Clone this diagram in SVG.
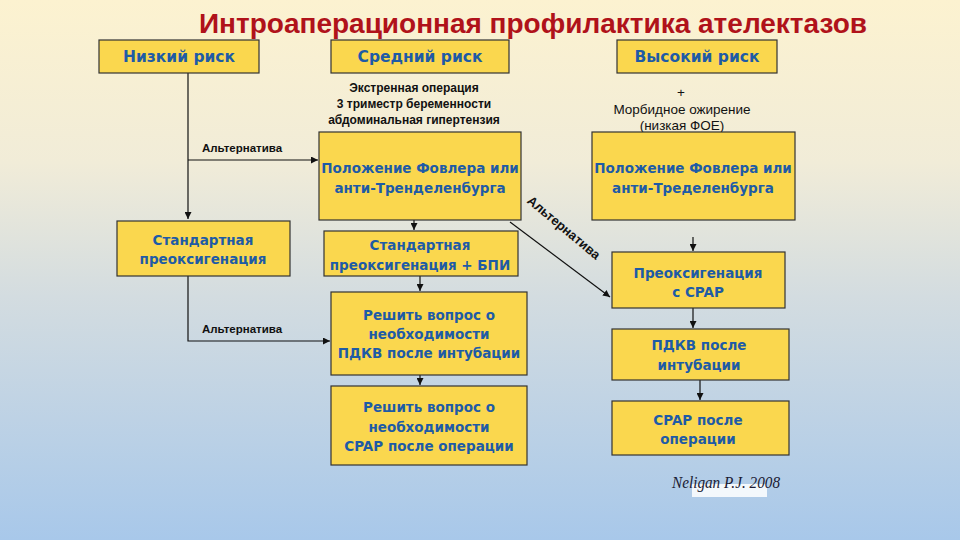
<svg xmlns="http://www.w3.org/2000/svg" width="960" height="540" viewBox="0 0 960 540">
<defs>
<linearGradient id="bg" x1="0" y1="0" x2="0" y2="1">
<stop offset="0" stop-color="#FCF2D0"/>
<stop offset="0.3" stop-color="#F1ECD8"/>
<stop offset="0.55" stop-color="#D3DCE0"/>
<stop offset="1" stop-color="#A8C8EA"/>
</linearGradient>
<marker id="ah" viewBox="0 0 10 10" refX="10" refY="5" markerWidth="7" markerHeight="7" orient="auto" markerUnits="userSpaceOnUse">
<path d="M0,0 L10,5 L0,10 z" fill="#111"/>
</marker>
<style>
.box{fill:#FAD74E;stroke:#333;stroke-width:1.2}
.bt{font-family:"DejaVu Sans",sans-serif;font-weight:bold;font-size:13.5px;fill:#1E5BA6;text-anchor:middle}
.ht{font-family:"DejaVu Sans",sans-serif;font-weight:bold;font-size:15.5px;fill:#1E5BA6;text-anchor:middle}
.lb{font-family:"Liberation Sans",sans-serif;font-weight:bold;font-size:11.5px;fill:#111}
.nt{font-family:"Liberation Sans",sans-serif;font-size:12px;fill:#111;text-anchor:middle}
.nt2{font-family:"Liberation Sans",sans-serif;font-size:13.5px;fill:#111;text-anchor:middle}
.ln{stroke:#111;stroke-width:1.2;fill:none}
</style>
</defs>
<rect width="960" height="540" fill="url(#bg)"/>
<text x="533" y="33" font-family="Liberation Sans, sans-serif" font-weight="bold" font-size="27" fill="#B0121A" text-anchor="middle" textLength="668" lengthAdjust="spacingAndGlyphs">Интроаперационная профилактика ателектазов</text>

<g id="connectors">
<path class="ln" d="M188,73 V219" marker-end="url(#ah)"/>
<path class="ln" d="M188,160 H318" marker-end="url(#ah)"/>
<path class="ln" d="M188,276 V341 H330" marker-end="url(#ah)"/>
<path class="ln" d="M414,220 V230" marker-end="url(#ah)"/>
<path class="ln" d="M420,276 V291" marker-end="url(#ah)"/>
<path class="ln" d="M420,375 V385" marker-end="url(#ah)"/>
<path class="ln" d="M510,222 L610,297" marker-end="url(#ah)"/>
<path class="ln" d="M693,237 V251" marker-end="url(#ah)"/>
<path class="ln" d="M693,308 V328" marker-end="url(#ah)"/>
<path class="ln" d="M700,380 V400" marker-end="url(#ah)"/>
<text class="lb" x="202" y="152">Альтернатива</text>
<text class="lb" x="202" y="333">Альтернатива</text>
<text class="lb" x="0" y="0" style="font-size:13px;text-anchor:middle" transform="translate(561,231) rotate(40)">Альтернатива</text>
</g>

<g id="n-low"><rect class="box" x="99" y="40" width="160" height="33"/><text class="ht" x="179" y="62">Низкий риск</text></g>
<g id="n-mid"><rect class="box" x="331" y="40" width="178" height="33"/><text class="ht" x="420" y="62">Средний риск</text></g>
<g id="n-high"><rect class="box" x="617" y="40" width="160" height="33"/><text class="ht" x="697" y="62">Высокий риск</text></g>

<g id="n-mid-note">
<text class="nt" font-weight="bold" x="414" y="92">Экстренная операция</text>
<text class="nt" font-weight="bold" x="414" y="108">3 триместр беременности</text>
<text class="nt" font-weight="bold" x="414" y="124">абдоминальная гипертензия</text>
</g>
<g id="n-high-note">
<text class="nt2" x="681" y="97">+</text>
<text class="nt2" x="682" y="114">Морбидное ожирение</text>
<text class="nt2" x="682" y="130">(низкая ФОЕ)</text>
</g>

<g id="n-fowler-mid"><rect class="box" x="319" y="132" width="202" height="88"/><text class="bt" x="420" y="173">Положение Фовлера или</text><text class="bt" x="420" y="193">анти-Тренделенбурга</text></g>
<g id="n-fowler-high"><rect class="box" x="592" y="132" width="203" height="88"/><text class="bt" x="693" y="173">Положение Фовлера или</text><text class="bt" x="693" y="193">анти-Тределенбурга</text></g>

<g id="n-std-low"><rect class="box" x="117" y="221" width="173" height="55"/><text class="bt" x="203" y="245">Стандартная</text><text class="bt" x="203" y="264">преоксигенация</text></g>
<g id="n-std-mid"><rect class="box" x="324" y="231" width="194" height="45"/><text class="bt" x="420" y="250">Стандартная</text><text class="bt" x="420" y="270">преоксигенация + БПИ</text></g>
<g id="n-cpap-pre"><rect class="box" x="612" y="252" width="173" height="56"/><text class="bt" x="698" y="278">Преоксигенация</text><text class="bt" x="698" y="297">с CPAP</text></g>

<g id="n-peep-q"><rect class="box" x="331" y="292" width="196" height="83"/><text class="bt" x="429" y="320">Решить вопрос о</text><text class="bt" x="429" y="339">необходимости</text><text class="bt" x="429" y="358">ПДКВ после интубации</text></g>
<g id="n-cpap-q"><rect class="box" x="331" y="386" width="196" height="79"/><text class="bt" x="429" y="412">Решить вопрос о</text><text class="bt" x="429" y="432">необходимости</text><text class="bt" x="429" y="451">CPAP после операции</text></g>

<g id="n-peep"><rect class="box" x="612" y="329" width="177" height="51"/><text class="bt" x="699" y="350">ПДКВ после</text><text class="bt" x="699" y="370">интубации</text></g>
<g id="n-cpap-post"><rect class="box" x="612" y="401" width="177" height="54"/><text class="bt" x="698" y="425">CPAP после</text><text class="bt" x="698" y="444">операции</text></g>

<g id="ref">
<rect x="692" y="484" width="75" height="13" fill="#FFFFFF" opacity="0.85"/>
<text x="672" y="488" font-family="Liberation Serif, serif" font-style="italic" font-size="17" fill="#1A1A33" textLength="108" lengthAdjust="spacingAndGlyphs">Neligan P.J. 2008</text>
</g>
</svg>
